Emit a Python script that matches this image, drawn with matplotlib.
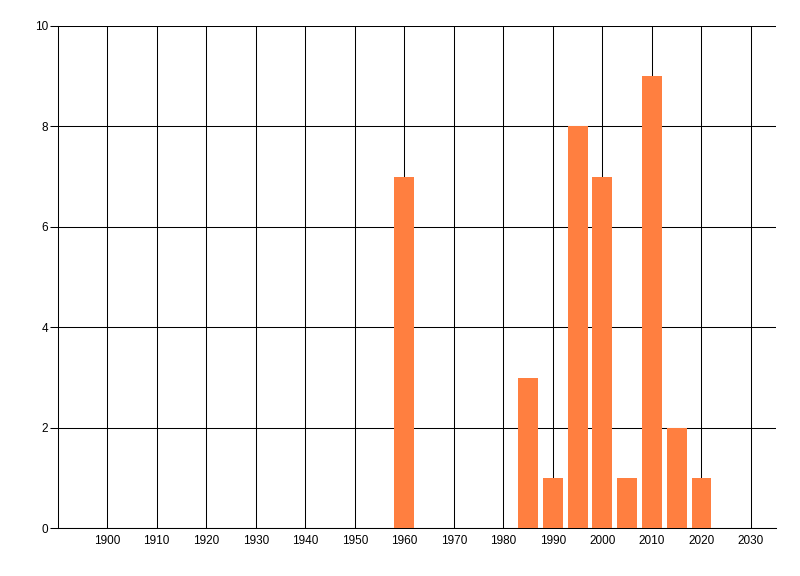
import matplotlib
matplotlib.use('Agg')
import matplotlib.pyplot as plt

# データ
years = [1960, 1985, 1990, 1995, 2000, 2005, 2010, 2015, 2020]
counts = [7, 3, 1, 8, 7, 1, 9, 2, 1]
x_ticks = list(range(1900, 2031, 10))
y_ticks = [0, 2, 4, 6, 8, 10]

plt.rcParams['font.family'] = ['Liberation Sans', 'DejaVu Sans']

fig = plt.figure(figsize=(8, 5.76), dpi=100)
ax = fig.add_axes([0.0721, 0.0828, 0.8975, 0.8721])

ax.bar(years, counts, width=4, color='#FF7F40', zorder=3)

ax.set_xlim(1890, 2035)
ax.set_ylim(0, 10)
ax.set_xticks(x_ticks)
ax.set_yticks(y_ticks)

# グリッド
ax.grid(True, color='black', linewidth=0.75, zorder=1)
ax.set_axisbelow(True)

for side in ['top', 'right']:
    ax.spines[side].set_visible(False)
for side in ['left', 'bottom']:
    ax.spines[side].set_linewidth(0.75)

ax.tick_params(axis='y', length=6, width=0.75, labelsize=8.5, pad=1)
ax.tick_params(axis='x', length=0, labelsize=8.5, pad=5)

plt.savefig('out.png', dpi=100)
